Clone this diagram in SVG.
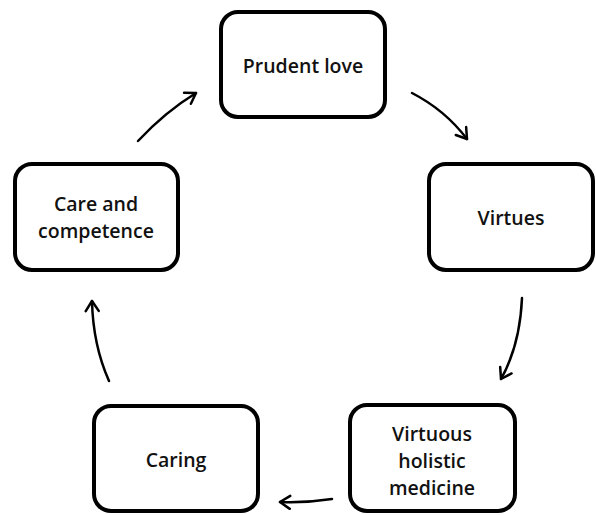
<svg xmlns="http://www.w3.org/2000/svg" width="596" height="515" viewBox="0 0 596 515">
  <style>
    .box { fill: #ffffff; stroke: #000000; stroke-width: 4; }
    .label { font-family: "Open Sans", "Liberation Sans", sans-serif; font-size: 19.5px; font-weight: 600; fill: #111111; text-anchor: middle; dominant-baseline: central; }
    .edge { fill: none; stroke: #000000; stroke-width: 2.5; stroke-linecap: round; marker-end: url(#head); }
  </style>
  <defs>
    <marker id="head" viewBox="-12 -8 14 16" refX="0" refY="0" markerWidth="14" markerHeight="16" markerUnits="userSpaceOnUse" orient="auto">
      <path d="M-10,-6.5 L0,0 L-10,6.5" fill="none" stroke="#000000" stroke-width="2.5" stroke-linecap="round" stroke-linejoin="round"/>
    </marker>
  </defs>
  <rect width="596" height="515" fill="#ffffff"/>

  <!-- curved arrows running clockwise round the cycle -->
  <g id="connectors">
    <path class="edge" d="M138,141 Q165,112 196,93"/>
    <path class="edge" d="M412,93 Q445,110 467,139"/>
    <path class="edge" d="M522,298 Q520,345 501,379"/>
    <path class="edge" d="M332,499 Q306,503 280,502"/>
    <path class="edge" d="M109,381 Q93,345 92,301"/>
  </g>

  <g id="prudent-love">
    <rect class="box" x="221" y="12" width="164" height="105" rx="17"/>
    <text class="label" x="303" y="65">Prudent love</text>
  </g>

  <g id="virtues">
    <rect class="box" x="429" y="164" width="164" height="106" rx="17"/>
    <text class="label" x="511" y="217">Virtues</text>
  </g>

  <g id="virtuous-holistic-medicine">
    <rect class="box" x="350" y="405" width="165" height="106" rx="17"/>
    <text class="label" x="432" y="433">Virtuous</text>
    <text class="label" x="432" y="460">holistic</text>
    <text class="label" x="432" y="487">medicine</text>
  </g>

  <g id="caring">
    <rect class="box" x="94" y="406" width="164" height="105" rx="17"/>
    <text class="label" x="176" y="459">Caring</text>
  </g>

  <g id="care-and-competence">
    <rect class="box" x="15" y="164" width="163" height="106" rx="17"/>
    <text class="label" x="96" y="203">Care and</text>
    <text class="label" x="96" y="230">competence</text>
  </g>
</svg>
